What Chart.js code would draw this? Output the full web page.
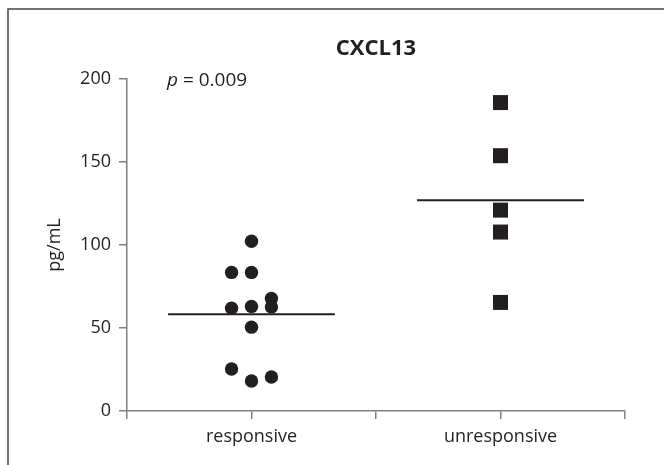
<!DOCTYPE html>
<html lang="en">
<head>
    <meta charset="UTF-8">
    <title>CXCL13</title>
    <script src="https://cdn.jsdelivr.net/npm/chart.js"></script>
    <style>
    html, body { margin: 0; padding: 0; background: #ffffff; }
    .chart-container { width: 664px; height: 465px; }
    </style>
</head>
<body>
    <div class="chart-container">
        <canvas id="scatterChart" width="664" height="465"></canvas>
    </div>
    <script>
    // groups on the x axis (category centres at 0.5 and 1.5)
    const categories = ['responsive', 'unresponsive'];
    const categoryPos = [0.5, 1.5];

    // responsive patients, x = jittered column position
    const responsiveX = [0.5, 0.42, 0.5, 0.42, 0.5, 0.58, 0.58, 0.5, 0.42, 0.5, 0.58];
    const responsiveY = [102.3, 83.5, 83.5, 61.9, 63.0, 67.8, 62.7, 50.5, 25.3, 18.1, 20.5];

    // unresponsive patients
    const unresponsiveX = [1.5, 1.5, 1.5, 1.5, 1.5];
    const unresponsiveY = [185.8, 153.8, 121.0, 107.8, 65.4];

    // group means
    const means = [58.3, 126.9];

    const yTicks = [0, 50, 100, 150, 200];
    const pText = '0.009';

    const ink = '#231f20';
    const axisGrey = '#808080';
    const halfLine = 0.335;

    const toPoints = (xs, ys) => xs.map((x, i) => ({ x: x, y: ys[i] }));
    const meanLine = i => [
        { x: categoryPos[i] - halfLine, y: means[i] },
        { x: categoryPos[i] + halfLine, y: means[i] }
    ];

    // frame, title and p value
    const decor = {
        id: 'decor',
        beforeDraw(chart) {
            const c = chart.ctx;
            c.save();
            c.strokeStyle = '#444444';
            c.lineWidth = 1.5;
            c.beginPath();
            c.moveTo(8, 465);
            c.lineTo(8, 9);
            c.lineTo(664, 9);
            c.stroke();
            c.restore();
        },
        afterDraw(chart) {
            const c = chart.ctx;
            const area = chart.chartArea;
            c.save();
            c.fillStyle = ink;
            c.textBaseline = 'middle';
            c.textAlign = 'center';
            c.font = 'bold 22px "Open Sans"';
            c.fillText('CXCL13', (area.left + area.right) / 2, 49);
            c.textAlign = 'left';
            c.font = 'italic 19px "Open Sans"';
            c.fillText('p', 167, 81);
            const pw = c.measureText('p').width;
            c.font = '19px "Open Sans"';
            c.fillText(' = ' + pText, 167 + pw, 81);
            c.restore();
        }
    };

    const ctx = document.getElementById('scatterChart').getContext('2d');
    new Chart(ctx, {
        type: 'scatter',
        data: {
            datasets: [
                {
                    data: toPoints(responsiveX, responsiveY),
                    pointStyle: 'circle',
                    pointRadius: 6.7,
                    backgroundColor: ink,
                    borderColor: ink,
                    borderWidth: 0,
                    order: 1
                },
                {
                    data: toPoints(unresponsiveX, unresponsiveY),
                    pointStyle: 'rect',
                    pointRadius: 10.6,
                    backgroundColor: ink,
                    borderColor: ink,
                    borderWidth: 0,
                    order: 1
                },
                {
                    data: meanLine(0),
                    showLine: true,
                    pointRadius: 0,
                    borderColor: ink,
                    borderWidth: 2,
                    order: 2
                },
                {
                    data: meanLine(1),
                    showLine: true,
                    pointRadius: 0,
                    borderColor: ink,
                    borderWidth: 2,
                    order: 2
                }
            ]
        },
        options: {
            responsive: false,
            animation: false,
            layout: { padding: { left: 0, right: 39, top: 79, bottom: 0 } },
            plugins: {
                legend: { display: false },
                tooltip: { enabled: false },
                title: { display: false }
            },
            scales: {
                x: {
                    type: 'linear',
                    min: 0,
                    max: 2,
                    afterBuildTicks: s => { s.ticks = [0, 0.5, 1, 1.5, 2].map(v => ({ value: v })); },
                    afterFit: s => { s.height = 54; },
                    grid: { drawOnChartArea: false, tickLength: 8, color: axisGrey, lineWidth: 1.5 },
                    border: { color: axisGrey, width: 1.5 },
                    ticks: {
                        padding: 7,
                        color: ink,
                        font: { family: 'Open Sans', size: 18 },
                        maxRotation: 0,
                        autoSkip: false,
                        callback: v => {
                            const i = categoryPos.indexOf(v);
                            return i >= 0 ? categories[i] : '';
                        }
                    }
                },
                y: {
                    min: 0,
                    max: 200,
                    afterBuildTicks: s => { s.ticks = yTicks.map(v => ({ value: v })); },
                    afterFit: s => { s.width = 127; },
                    grid: { drawOnChartArea: false, tickLength: 8, color: axisGrey, lineWidth: 1.5 },
                    border: { color: axisGrey, width: 1.5 },
                    ticks: {
                        padding: 8,
                        color: ink,
                        font: { family: 'Open Sans', size: 18 }
                    },
                    title: {
                        display: true,
                        text: 'pg/mL',
                        color: ink,
                        font: { family: 'Open Sans', size: 18 },
                        padding: { top: 44, bottom: 0 }
                    }
                }
            }
        },
        plugins: [decor]
    });
    </script>
</body>
</html>
